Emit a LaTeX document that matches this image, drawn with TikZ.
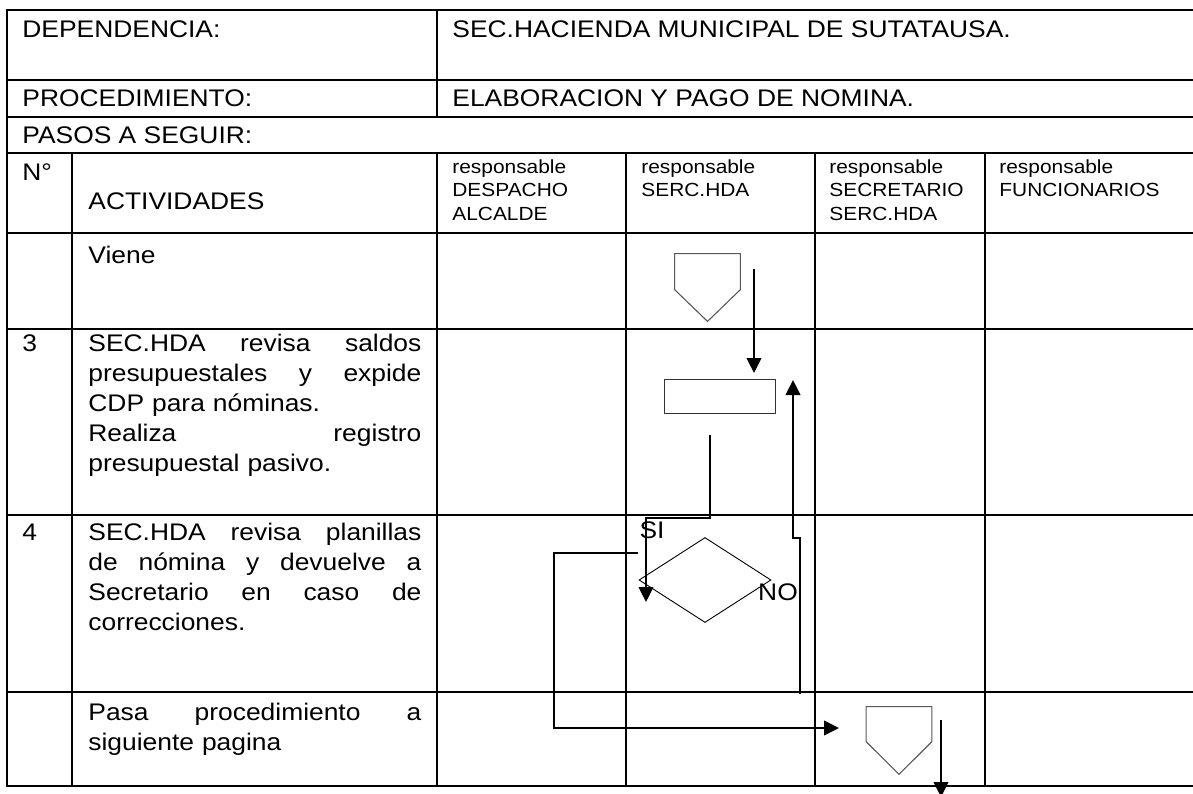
\documentclass[tikz,border=0pt]{standalone}
\usepackage{fontspec}
\setmainfont{Liberation Sans}[FakeStretch=1.1]
\usetikzlibrary{arrows.meta,shapes.geometric}

\newcommand{\fullline}[1]{\leavevmode\hbox to 166.5pt{#1}}

\begin{document}
\begin{tikzpicture}[x=0.5pt,y=-0.5pt,
      grid/.style={line width=1.15pt,line cap=rect},
      cell/.style={anchor=base west,inner sep=0pt,font=\fontsize{12}{15}\selectfont},
      act/.style={cell,text width=170pt,align=left},
      resp/.style={anchor=base west,inner sep=0pt,text width=80pt,align=left,
                   font=\fontsize{9.5}{11.75}\selectfont},
      proc/.style={rectangle,draw=black!80,line width=0.45pt,minimum width=55.5pt,
                   minimum height=17pt,inner sep=0pt},
      decision/.style={diamond,draw,line width=0.45pt,minimum width=66pt,
                       minimum height=42.5pt,inner sep=0pt},
      pagebox/.style={inner sep=0pt,minimum width=32.5pt,minimum height=33.5pt},
      pageline/.style={draw=black!65,line width=0.55pt},
      flow/.style={line width=1pt,-{Triangle[length=7.5pt,width=7.3pt]}}]
    \useasboundingbox (0,0) rectangle (1193,793);

    \foreach \y in {10,80,117,153,233,329,515,692,786}
      \draw[grid] (7,\y) -- (1200,\y);
    \draw[grid] (7,10) -- (7,786);
    \draw[grid] (437,10) -- (437,117);
    \foreach \x in {72,437,626,815,985}
      \draw[grid] (\x,153) -- (\x,786);

    \node[cell] (depL)  at (22,37)  {DEPENDENCIA:};
    \node[cell] (depR)  at (452,37) {SEC.HACIENDA MUNICIPAL DE SUTATAUSA.};
    \node[cell] (procL) at (22,106) {PROCEDIMIENTO:};
    \node[cell] (procR) at (452,106) {ELABORACION Y PAGO DE NOMINA.};
    \node[cell] (pasos) at (22,143) {PASOS A SEGUIR:};
    \node[cell] (num)   at (22,180) {N°};
    \node[cell] (actH)  at (88,209) {ACTIVIDADES};
    \node[resp] (respA) at (452,173) {responsable\\DESPACHO\\ALCALDE};
    \node[resp] (respB) at (641,173) {responsable\\SERC.HDA};
    \node[resp] (respC) at (829,173) {responsable\\SECRETARIO\\SERC.HDA};
    \node[resp] (respD) at (999,173) {responsable\\FUNCIONARIOS};

    \node[cell] (viene) at (88,263) {Viene};
    \node[cell] (n3)    at (22,351) {3};
    \node[act]  (act3)  at (88,351) {\fullline{SEC.HDA\hfill revisa\hfill saldos}\\
      \fullline{presupuestales\hfill y\hfill expide}\\CDP para nóminas.\\
      \fullline{Realiza\hfill registro}\\presupuestal pasivo.};
    \node[cell] (n4)    at (22,540) {4};
    \node[act]  (act4)  at (88,540) {\fullline{SEC.HDA\hfill revisa\hfill planillas}\\
      \fullline{de\hfill nómina\hfill y\hfill devuelve\hfill a}\\
      \fullline{Secretario\hfill en\hfill caso\hfill de}\\
      correcciones.};
    \node[act]  (pasa)  at (88,720) {\fullline{Pasa\hfill procedimiento\hfill a}\\
      siguiente pagina};

    \node[pagebox] (vieneIn) at (707.5,287.5) {};
    \draw[pageline] (vieneIn.north west) -- (vieneIn.north east)
      -- ([yshift=-18pt]vieneIn.north east) -- (vieneIn.south)
      -- ([yshift=-18pt]vieneIn.north west) -- cycle;
    \node[proc] (cdp) at (719.5,396) {};
    \node[decision] (rev) at (705,580) {};
    \node[cell,anchor=center] (si) at (652,530) {SI};
    \node[cell,anchor=center] (no) at (778,592) {NO};
    \node[pagebox] (pasaOut) at (899,740.5) {};
    \draw[pageline] (pasaOut.north west) -- (pasaOut.north east)
      -- ([yshift=-17.5pt]pasaOut.north east) -- (pasaOut.south)
      -- ([yshift=-17.5pt]pasaOut.north west) -- cycle;

    \coordinate (inTop) at (754,269);
    \coordinate (inTip) at (754,373);
    \coordinate (cdpOut) at (710,435);
    \coordinate (siBend) at (646,518);
    \coordinate (siTip) at (646,602);
    \coordinate (noStart) at (800,694);
    \coordinate (noJog) at (793,538);
    \coordinate (noTip) at (793,380);
    \coordinate (loopStart) at (638,553);
    \coordinate (loopCorner) at (554,728);
    \coordinate (loopTip) at (839,728);
    \coordinate (outTop) at (941,720);
    \coordinate (outTip) at (941,797);

    \draw[flow] (inTop) -- (inTip);
    \draw[flow] (cdpOut) |- (siBend) -- (siTip);
    \draw[flow] (noStart) |- (noJog) -- (noTip);
    \draw[flow] (loopStart) -| (loopCorner) -- (loopTip);
    \draw[flow] (outTop) -- (outTip);
  \end{tikzpicture}
\end{document}
